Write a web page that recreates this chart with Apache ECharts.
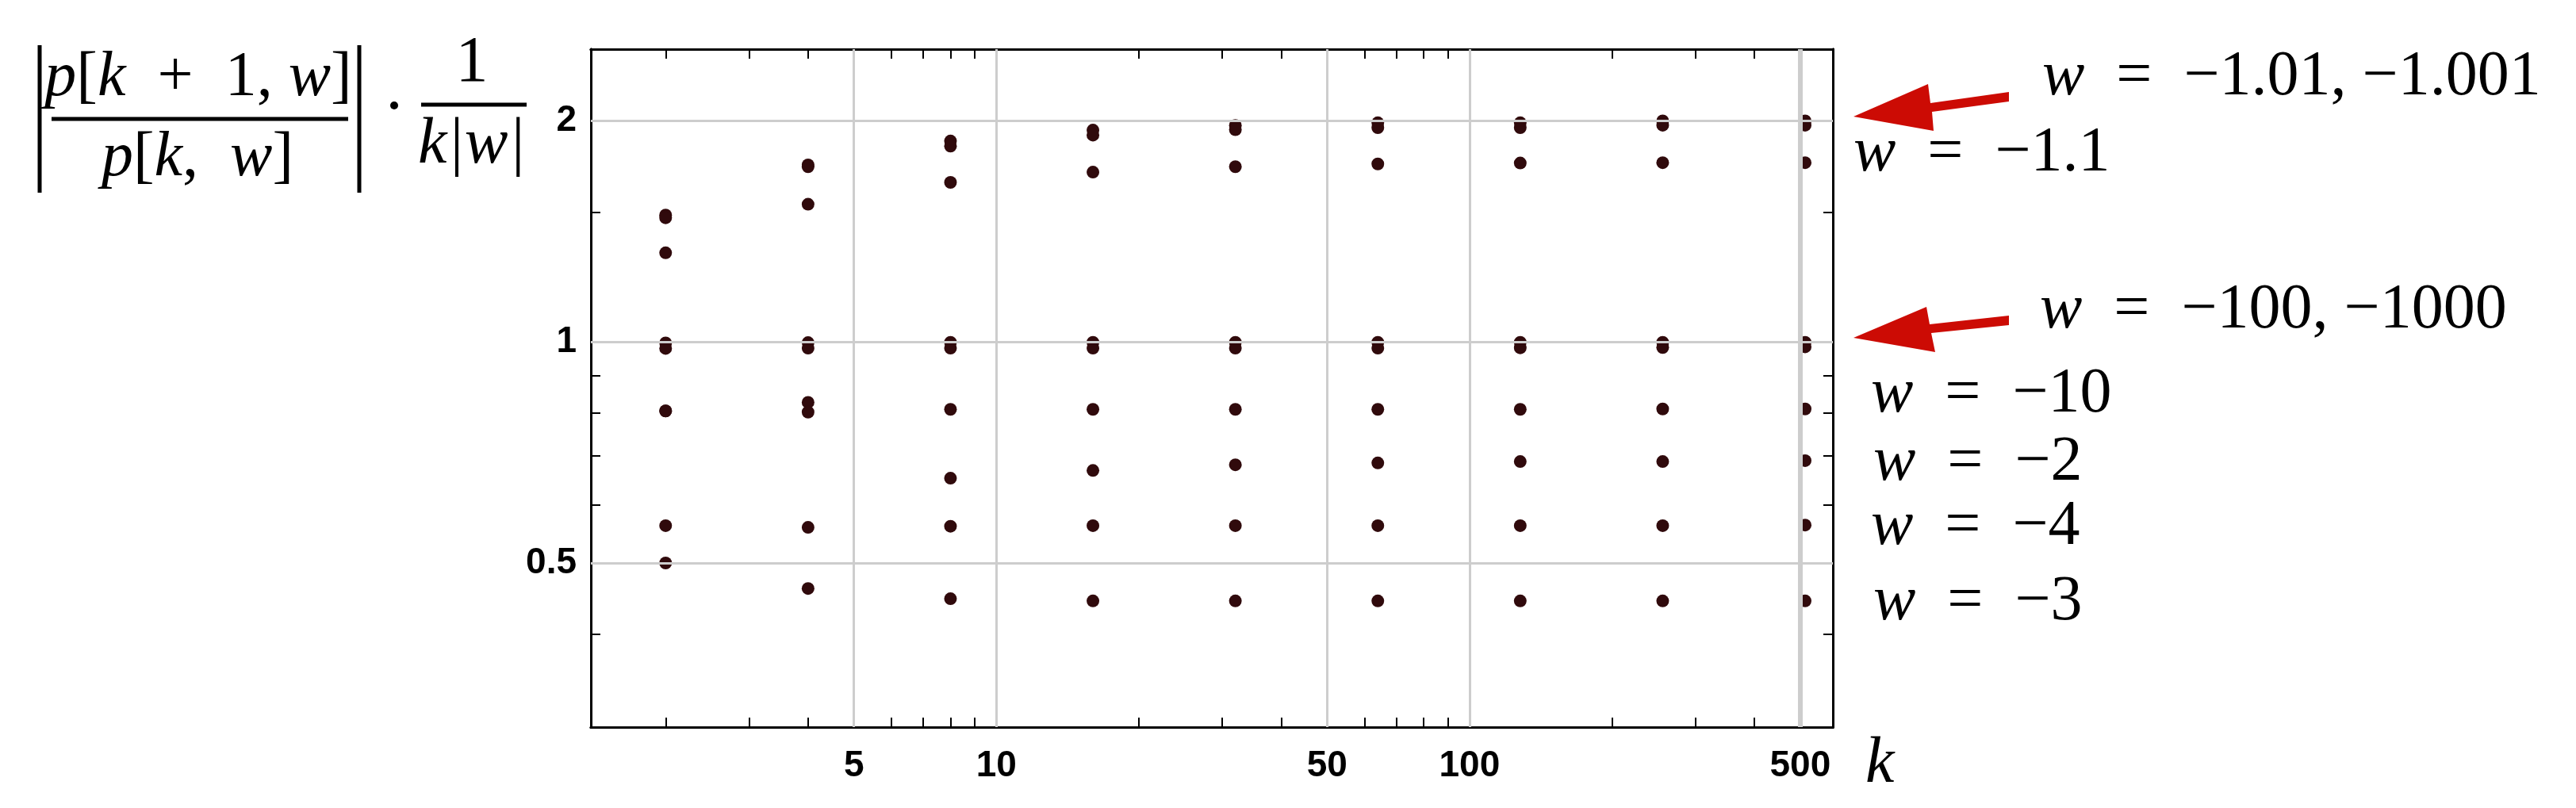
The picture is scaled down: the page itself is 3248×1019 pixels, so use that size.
<!DOCTYPE html>
<html>
<head>
<meta charset="utf-8">
<title>p[k+1,w]/p[k,w] ratio</title>
<script src="https://cdn.jsdelivr.net/npm/echarts@6/dist/echarts.min.js"></script>
<style>
  html, body { margin: 0; padding: 0; background: #fff; }
  #chart { width: 3248px; height: 1019px; }
</style>
</head>
<body>
<div id="chart"></div>
<script>
// k values (powers of two) on the log x axis
const kValues = [2, 4, 8, 16, 32, 64, 128, 256, 512]

// |p[k+1,w]/p[k,w]| / (k|w|), one array per w
const wm1001 = [1.487, 1.74, 1.875, 1.94, 1.969, 1.985, 1.985, 1.997, 1.997]
const wm101 = [1.474, 1.73, 1.845, 1.91, 1.943, 1.955, 1.955, 1.97, 1.97]
const wm11 = [1.321, 1.538, 1.647, 1.701, 1.73, 1.745, 1.75, 1.752, 1.752]
const wm1000 = [0.996, 0.997, 0.998, 0.998, 0.998, 0.998, 0.998, 0.998, 0.998]
const wm100 = [0.979, 0.98, 0.98, 0.98, 0.98, 0.98, 0.981, 0.982, 0.984]
const wm10 = [0.805, 0.827, 0.809, 0.809, 0.809, 0.809, 0.809, 0.81, 0.81]
const wm2 = [0.805, 0.802, 0.652, 0.668, 0.68, 0.684, 0.687, 0.687, 0.689]
const wm4 = [0.562, 0.559, 0.561, 0.562, 0.562, 0.562, 0.562, 0.562, 0.563]
const wm3 = [0.5, 0.4616, 0.447, 0.444, 0.444, 0.444, 0.444, 0.444, 0.444]

const seriesList = [
  { name: 'w = -1.001', values: wm1001 },
  { name: 'w = -1.01', values: wm101 },
  { name: 'w = -1.1', values: wm11 },
  { name: 'w = -1000', values: wm1000 },
  { name: 'w = -100', values: wm100 },
  { name: 'w = -10', values: wm10 },
  { name: 'w = -2', values: wm2 },
  { name: 'w = -4', values: wm4 },
  { name: 'w = -3', values: wm3 },
]

// tick marks and grid lines
const xMajor = [5, 10, 50, 100, 500]
const xMinor = [2, 3, 4, 6, 7, 8, 9, 20, 30, 40, 60, 70, 80, 90, 200, 300, 400]
const yMajor = [0.5, 1, 2]
const yMinor = [0.4, 0.6, 0.7, 0.8, 0.9, 1.5]

// annotation texts on the right
const rightLabels = [
  { text: '−1.01, −1.001', x: 2575, y: 98 },
  { text: '−1.1', x: 2337, y: 194 },
  { text: '−100, −1000', x: 2572, y: 392 },
  { text: '−10', x: 2359, y: 498 },
  { text: '−2', x: 2362, y: 584 },
  { text: '−4', x: 2359, y: 665 },
  { text: '−3', x: 2362, y: 760 },
]

const xRange = [1.39, 586]
const yRange = [0.299, 2.5]
const pointColor = '#300a0c'
const gridColor = '#cdcdcd'
const serif = 'Liberation Serif'

const chartInstance = echarts.init(document.getElementById('chart'))

const makeXAxis = (position, values, len, withLabels) => ({
  type: 'log',
  min: xRange[0],
  max: xRange[1],
  position: position,
  axisLine: { show: true, onZero: false, lineStyle: { color: '#000', width: 3 } },
  axisTick: { show: true, inside: true, length: len, customValues: values, lineStyle: { color: '#000', width: 2 } },
  axisLabel: withLabels
    ? { show: true, customValues: values, margin: 26, color: '#000', fontSize: 46, fontWeight: 'bold', fontFamily: 'Liberation Sans' }
    : { show: false },
  splitLine: { show: false },
  minorTick: { show: false },
})

const makeYAxis = (position, values, len, withLabels) => ({
  type: 'log',
  min: yRange[0],
  max: yRange[1],
  position: position,
  axisLine: { show: true, onZero: false, lineStyle: { color: '#000', width: 3 } },
  axisTick: { show: true, inside: true, length: len, customValues: values, lineStyle: { color: '#000', width: 2 } },
  axisLabel: withLabels
    ? { show: true, customValues: values, margin: 18, color: '#000', fontSize: 46, fontWeight: 'bold', fontFamily: 'Liberation Sans' }
    : { show: false },
  splitLine: { show: false },
  minorTick: { show: false },
})

// grid lines drawn as markLines so only the labelled values get one
const gridLines = []
xMajor.forEach((v) => {
  gridLines.push({ xAxis: v, lineStyle: { width: v === 500 ? 6 : 3 } })
})
yMajor.forEach((v) => {
  gridLines.push({ yAxis: v })
})

const italic = { fontStyle: 'italic', fontFamily: serif, fill: '#000' }

const graphics = [
  // |p[k+1,w] / p[k,w]| . 1/(k|w|)
  { type: 'line', shape: { x1: 50, y1: 57, x2: 50, y2: 243 }, style: { stroke: '#000', lineWidth: 5 } },
  { type: 'line', shape: { x1: 453, y1: 57, x2: 453, y2: 243 }, style: { stroke: '#000', lineWidth: 5 } },
  {
    type: 'text', x: 250, y: 99,
    style: {
      text: '{i|p}[{i|k}  +  1, {i|w}]', align: 'center', verticalAlign: 'middle',
      fontFamily: serif, fontSize: 80, fill: '#000',
      rich: { i: Object.assign({ fontSize: 80 }, italic) },
    },
  },
  { type: 'line', shape: { x1: 65, y1: 150, x2: 439, y2: 150 }, style: { stroke: '#000', lineWidth: 5 } },
  {
    type: 'text', x: 249, y: 200,
    style: {
      text: '{i|p}[{i|k},  {i|w}]', align: 'center', verticalAlign: 'middle',
      fontFamily: serif, fontSize: 80, fill: '#000',
      rich: { i: Object.assign({ fontSize: 80 }, italic) },
    },
  },
  { type: 'circle', shape: { cx: 497, cy: 133, r: 5 }, style: { fill: '#000' } },
  {
    type: 'text', x: 595, y: 80,
    style: { text: '1', align: 'center', verticalAlign: 'middle', fontFamily: serif, fontSize: 82, fill: '#000' },
  },
  { type: 'line', shape: { x1: 531, y1: 132, x2: 664, y2: 132 }, style: { stroke: '#000', lineWidth: 5 } },
  {
    type: 'text', x: 595, y: 183,
    style: { text: 'k|w|', align: 'center', verticalAlign: 'middle', fontFamily: serif, fontStyle: 'italic', fontSize: 82, fill: '#000' },
  },
  // axis name
  {
    type: 'text', x: 2352, y: 964,
    style: { text: 'k', align: 'left', verticalAlign: 'middle', fontFamily: serif, fontStyle: 'italic', fontSize: 82, fill: '#000' },
  },
  // red arrows
  {
    type: 'polygon',
    shape: { points: [[2337, 147], [2431, 106], [2434, 130], [2533, 116], [2533, 128], [2436, 141], [2438, 165]] },
    style: { fill: '#cc0b04' },
  },
  {
    type: 'polygon',
    shape: { points: [[2337, 426], [2429, 387], [2433, 409], [2533, 398], [2533, 410], [2435, 420], [2440, 444]] },
    style: { fill: '#cc0b04' },
  },
]

rightLabels.forEach((item) => {
  graphics.push({
    type: 'text', x: item.x, y: item.y,
    style: {
      text: '{i|w}  =  ' + item.text, align: 'left', verticalAlign: 'middle',
      fontFamily: serif, fontSize: 80, fill: '#000',
      rich: { i: Object.assign({ fontSize: 80 }, italic) },
    },
  })
})

const option = {
  backgroundColor: '#fff',
  animation: false,
  grid: { left: 745, top: 62, width: 1566, height: 855, containLabel: false },
  xAxis: [
    makeXAxis('bottom', xMajor, 16, true),
    makeXAxis('bottom', xMinor, 12, false),
    makeXAxis('top', xMajor, 16, false),
    makeXAxis('top', xMinor, 12, false),
  ],
  yAxis: [
    makeYAxis('left', yMajor, 16, true),
    makeYAxis('left', yMinor, 12, false),
    makeYAxis('right', yMajor, 16, false),
    makeYAxis('right', yMinor, 12, false),
  ],
  series: [
    {
      type: 'scatter',
      name: 'grid',
      data: [],
      z: 1,
      silent: true,
      markLine: {
        silent: true,
        symbol: ['none', 'none'],
        label: { show: false },
        lineStyle: { color: gridColor, width: 3, type: 'solid' },
        data: gridLines,
      },
    },
  ].concat(seriesList.map((s) => ({
    type: 'scatter',
    name: s.name,
    data: kValues.map((k, i) => [k, s.values[i]]),
    symbol: 'circle',
    symbolSize: 16,
    itemStyle: { color: pointColor, opacity: 1 },
    z: 3,
  }))),
  graphic: graphics,
}

chartInstance.setOption(option)
</script>
</body>
</html>
